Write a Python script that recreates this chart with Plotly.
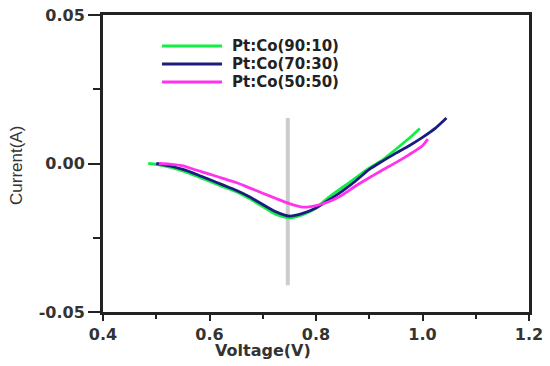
import plotly.graph_objects as go

# Data
v_90_10 = [0.485, 0.5, 0.525, 0.55, 0.575, 0.6, 0.625, 0.65, 0.675, 0.7, 0.725, 0.75, 0.775, 0.8,
           0.825, 0.85, 0.875, 0.9, 0.925, 0.95, 0.975, 0.995]
i_90_10 = [0.0, -0.0003, -0.0012, -0.0025, -0.0042, -0.006, -0.0078, -0.0095, -0.0118, -0.0145, -0.0172,
           -0.0183, -0.0172, -0.0150, -0.0112, -0.008, -0.0048, -0.0015, 0.0012, 0.0048, 0.0085, 0.0118]

v_70_30 = [0.5, 0.525, 0.55, 0.575, 0.6, 0.625, 0.65, 0.675, 0.7, 0.725, 0.75, 0.775, 0.8, 0.825,
           0.85, 0.875, 0.9, 0.925, 0.95, 0.975, 1.0, 1.025, 1.045]
i_70_30 = [0.0, -0.0008, -0.002, -0.0036, -0.0054, -0.0072, -0.009, -0.0112, -0.0138, -0.0163, -0.0177,
           -0.0168, -0.015, -0.0122, -0.0092, -0.0058, -0.002, 0.0008, 0.0035, 0.006, 0.0088, 0.012, 0.0153]

v_50_50 = [0.505, 0.525, 0.55, 0.575, 0.6, 0.625, 0.65, 0.675, 0.7, 0.725, 0.75, 0.775, 0.8, 0.825,
           0.85, 0.875, 0.9, 0.925, 0.95, 0.975, 1.0, 1.01]
i_50_50 = [0.0, -0.0002, -0.0008, -0.0022, -0.0036, -0.005, -0.0064, -0.0082, -0.01, -0.0118, -0.0135,
           -0.0147, -0.0142, -0.0128, -0.0105, -0.0075, -0.0048, -0.0022, 0.0003, 0.003, 0.006, 0.0082]

series_names = ["Pt:Co(90:10)", "Pt:Co(70:30)", "Pt:Co(50:50)"]
series_colors = ["#11ee44", "#1c1c80", "#ff33ee"]

marker_v = 0.747
marker_i = [-0.041, 0.0153]

x_ticks = [0.4, 0.6, 0.8, 1.0, 1.2]
x_ticklabels = ["0.4", "0.6", "0.8", "1.0", "1.2"]
y_ticks = [-0.05, 0.0, 0.05]
y_ticklabels = ["-0.05", "0.00", "0.05"]

# plot area in screen pixels (body margin removed below)
PL, PR, PT, PB = 103, 529, 15, 312
PW, PH = PR - PL, PB - PT


def px(x):
    return (x - PL) / PW


def py(y):
    return (PB - y) / PH


fig = go.Figure()

# grey vertical marker line
fig.add_trace(go.Scatter(x=[marker_v, marker_v], y=marker_i, mode="lines",
                         line=dict(color="#cccccc", width=4), showlegend=False, hoverinfo="skip"))

for vx, iy, name, col in zip([v_90_10, v_70_30, v_50_50], [i_90_10, i_70_30, i_50_50],
                             series_names, series_colors):
    fig.add_trace(go.Scatter(x=vx, y=iy, mode="lines", name=name,
                             line=dict(color=col, width=2.8, shape="spline", smoothing=0.6),
                             showlegend=False))

FONT = "DejaVu Sans, Verdana, sans-serif"
tickfont = dict(family=FONT, size=16, color="#333333", weight="bold")

fig.update_layout(
    width=550, height=366,
    margin=dict(l=PL, r=550 - PR, t=PT, b=366 - PB),
    paper_bgcolor="white", plot_bgcolor="white",
    xaxis=dict(range=[0.4, 1.2], tickvals=x_ticks, ticktext=x_ticklabels, automargin=False,
               ticklabeloverflow="allow",
               ticks="outside", ticklen=6, tickwidth=2, tickcolor="#222",
               minor=dict(dtick=0.1, ticks="outside", ticklen=4, tickwidth=2, tickcolor="#222"),
               showline=True, linecolor="#222", linewidth=3, mirror=True,
               showgrid=False, zeroline=False, tickfont=tickfont),
    yaxis=dict(range=[-0.05, 0.05], tickvals=y_ticks, ticktext=y_ticklabels, automargin=False,
               ticklabeloverflow="allow",
               ticks="outside", ticklen=12, tickwidth=2, tickcolor="#222",
               minor=dict(dtick=0.025, ticks="outside", ticklen=7, tickwidth=2, tickcolor="#222"),
               showline=True, linecolor="#222", linewidth=3, mirror=True,
               showgrid=False, zeroline=False, tickfont=tickfont),
    showlegend=False,
)

# axis titles
fig.add_annotation(text="Voltage(V)", xref="paper", yref="paper", x=px(263), y=py(350),
                   showarrow=False, xanchor="center", yanchor="middle",
                   font=dict(family=FONT, size=16, color="#333333", weight="bold"))
fig.add_annotation(text="Current(A)", xref="paper", yref="paper", x=px(16), y=py(166),
                   showarrow=False, xanchor="center", yanchor="middle", textangle=-90,
                   font=dict(family="Liberation Sans Narrow, Arial Narrow, sans-serif", size=17,
                             color="#333333"))

# manual legend
legend_rows_y = [46, 64, 82]
for name, col, ry in zip(series_names, series_colors, legend_rows_y):
    yp = py(ry)
    fig.add_shape(type="line", xref="paper", yref="paper",
                  x0=px(162), x1=px(222), y0=yp, y1=yp,
                  line=dict(color=col, width=3))
    fig.add_annotation(text=name, xref="paper", yref="paper", x=px(230), y=yp,
                       showarrow=False, xanchor="left", yanchor="middle",
                       font=dict(family=FONT, size=15, color="#222222", weight="bold"))

fig.write_html("out.html", config={"displayModeBar": False},
               post_script="document.body.style.margin='0px';document.body.style.overflow='hidden';")
